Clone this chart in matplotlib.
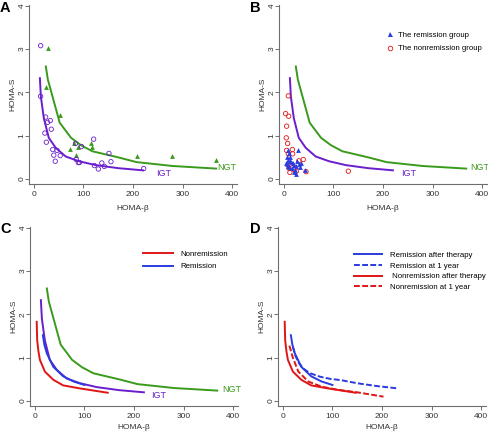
import matplotlib
matplotlib.use("Agg")
import matplotlib.pyplot as plt
from matplotlib.lines import Line2D

plt.rcParams['font.family'] = ['Liberation Sans', 'DejaVu Sans']

# ---------------- data ----------------
ngt_curve_x = [24, 28, 52, 75, 95, 118, 170, 207, 280, 368]
ngt_curve_y = [2.6, 2.3, 1.3, 0.95, 0.78, 0.64, 0.5, 0.39, 0.3, 0.24]
igt_curve_x = [12, 14, 20, 30, 44, 64, 91, 125, 170, 220]
igt_curve_y = [2.33, 1.9, 1.4, 0.95, 0.72, 0.52, 0.41, 0.32, 0.25, 0.2]

ngt_pts_x = [28, 25, 52.5, 80, 89.5, 72, 85.5, 115, 118, 208, 278, 367]
ngt_pts_y = [3.02, 2.12, 1.47, 0.83, 0.75, 0.69, 0.56, 0.82, 0.75, 0.52, 0.52, 0.45]

igt_pts_x = [13.5, 13.5, 23.6, 27.6, 33, 35, 22, 25, 38, 46.5, 40, 53, 43,
             84, 96, 120.5, 151.5, 155.5, 137, 130, 142, 122, 89.5, 92, 85.5, 221.5]
igt_pts_y = [3.08, 1.91, 1.43, 1.31, 1.35, 1.15, 1.06, 0.85, 0.68, 0.66, 0.55, 0.54, 0.41,
             0.82, 0.75, 0.92, 0.59, 0.4, 0.37, 0.23, 0.29, 0.31, 0.38, 0.38, 0.45, 0.24]

rem_pts_x = [8, 10, 28, 6, 9, 12, 5, 7, 14, 18, 20, 25, 30, 35, 11, 16, 22, 20, 24, 42, 9, 13, 32, 27]
rem_pts_y = [0.66, 0.6, 0.67, 0.5, 0.45, 0.42, 0.38, 0.35, 0.4, 0.38, 0.32, 0.3, 0.35, 0.38,
             0.28, 0.25, 0.2, 0.15, 0.12, 0.2, 0.3, 0.5, 0.28, 0.42]
nonrem_pts_x = [8.8, 3.4, 9.5, 5.4, 4.7, 7.4, 17, 5.4, 17.6, 8.8, 39, 10, 44.6, 130, 20, 25, 14, 12, 30]
nonrem_pts_y = [1.92, 1.51, 1.45, 1.22, 0.95, 0.82, 0.68, 0.66, 0.58, 0.58, 0.45, 0.25, 0.17, 0.18,
                0.22, 0.18, 0.35, 0.15, 0.42]

nonrem_x = [3.5, 4.5, 7, 10, 20, 37, 57, 91, 147]
nonrem_y = [1.83, 1.4, 1.15, 0.95, 0.68, 0.49, 0.36, 0.29, 0.19]
rem_x = [16, 19, 24, 37, 57, 78, 100]
rem_y = [1.52, 1.3, 1.1, 0.79, 0.57, 0.45, 0.37]

rem1y_x = [20, 25, 32, 42, 55, 75, 96, 118, 150, 186, 232]
rem1y_y = [1.25, 1.05, 0.88, 0.74, 0.64, 0.56, 0.51, 0.48, 0.41, 0.35, 0.29]
nonrem1y_x = [13, 15, 20, 31, 51, 78, 110, 150, 203]
nonrem1y_y = [1.28, 1.2, 1.0, 0.68, 0.45, 0.33, 0.26, 0.2, 0.1]

x_ticks = [0, 100, 200, 300, 400]
y_ticks = [0, 1, 2, 3, 4]

# ---------------- style ----------------
GREEN = '#3a9a1c'
PURPLE = '#6a1ecc'
BLUE = '#2a3be0'
RED = '#e01515'
AX = '#6e6e6e'
TXT = '#333333'
W, H = 489, 434
FS = 6
LFS = 5.6

fig = plt.figure(figsize=(W / 100, H / 100), dpi=100)


def make_ax(left, bottom_px, letter, lx, ly, xlabelpad):
    ax = fig.add_axes([left / W, (H - bottom_px) / H, 208 / W, 179 / H])
    ax.set_xlim(-10, 410)
    ax.set_ylim(-0.116, 4.02)
    for s in ['top', 'right']:
        ax.spines[s].set_visible(False)
    for s in ['left', 'bottom']:
        ax.spines[s].set_color(AX)
        ax.spines[s].set_linewidth(0.8)
    ax.set_xticks(x_ticks)
    ax.set_yticks(y_ticks)
    ax.tick_params(direction='out', length=2.6, width=0.7, color=AX,
                   labelsize=FS, labelcolor=TXT)
    ax.tick_params(axis='x', pad=2.5)
    ax.tick_params(axis='y', pad=-0.3)
    for t in ax.get_yticklabels():
        t.set_rotation(90)
        t.set_va('center')
    ax.set_xlabel('HOMA-β', fontsize=FS, color=TXT, labelpad=xlabelpad)
    ax.set_ylabel('HOMA-S', fontsize=FS, color=TXT, labelpad=2)
    fig.text(lx / W, 1 - ly / H, letter, fontsize=10.5, fontweight='bold',
             ha='left', va='top')
    return ax


def ref_curves(ax, ngt_x, igt_x):
    ax.plot(ngt_curve_x, ngt_curve_y, color=GREEN, lw=1.4)
    ax.plot(igt_curve_x, igt_curve_y, color=PURPLE, lw=1.4)
    ax.text(ngt_x, 0.27, 'NGT', color=GREEN, fontsize=FS + 0.5, va='center', ha='left')
    ax.text(igt_x, 0.12, 'IGT', color=PURPLE, fontsize=FS + 0.5, va='center', ha='left')


# Panel A
axA = make_ax(29, 184, 'A', 0, 1, 5)
ref_curves(axA, 370, 246)
axA.scatter(ngt_pts_x, ngt_pts_y, marker='^', s=12, color=GREEN, linewidths=0, zorder=3)
axA.scatter(igt_pts_x, igt_pts_y, marker='o', s=10, facecolors='none',
            edgecolors=PURPLE, linewidths=0.6, zorder=3)

# Panel B
axB = make_ax(279, 184, 'B', 250, 1, 5)
ref_curves(axB, 377, 236)
axB.scatter(nonrem_pts_x, nonrem_pts_y, marker='o', s=10, facecolors='none',
            edgecolors=RED, linewidths=0.6, zorder=3)
axB.scatter(rem_pts_x, rem_pts_y, marker='^', s=12, color=BLUE, linewidths=0, zorder=3)
hB = [Line2D([], [], marker='^', ls='none', color=BLUE, markersize=3.6, markeredgewidth=0),
      Line2D([], [], marker='o', ls='none', markerfacecolor='none', markeredgecolor=RED,
             markersize=3.3, markeredgewidth=0.6)]
axB.legend(hB, ['The remission group', 'The nonremission group'], loc='upper left',
           bbox_to_anchor=(0.5, 0.868), frameon=False, fontsize=LFS, handlelength=1.0,
           handletextpad=0.5, labelspacing=0.72, borderaxespad=0)

# Panel C
axC = make_ax(30, 406, 'C', 0, 222, 3)
ref_curves(axC, 378, 235)
axC.plot(nonrem_x, nonrem_y, color=RED, lw=1.4)
axC.plot(rem_x, rem_y, color=BLUE, lw=1.4)
hC = [Line2D([], [], color=RED, lw=1.4), Line2D([], [], color=BLUE, lw=1.4)]
axC.legend(hC, ['Nonremission', 'Remission'], loc='upper left',
           bbox_to_anchor=(0.53, 0.885), frameon=False, fontsize=LFS, handlelength=3.85,
           handletextpad=0.9, labelspacing=0.6, borderaxespad=0)

# Panel D
axD = make_ax(278, 406, 'D', 250, 222, 3)
axD.plot(rem_x, rem_y, color=BLUE, lw=1.4)
axD.plot(rem1y_x, rem1y_y, color=BLUE, lw=1.4, ls=(0, (3, 1.2)))
axD.plot(nonrem_x, nonrem_y, color=RED, lw=1.4)
axD.plot(nonrem1y_x, nonrem1y_y, color=RED, lw=1.4, ls=(0, (3, 1.2)))
hD = [Line2D([], [], color=BLUE, lw=1.4),
      Line2D([], [], color=BLUE, lw=1.4, ls=(0, (3, 1.2))),
      Line2D([], [], color=RED, lw=1.4),
      Line2D([], [], color=RED, lw=1.4, ls=(0, (3, 1.2)))]
axD.legend(hD, ['Remission after therapy', 'Remission at 1 year',
                ' Nonremission after therapy', 'Nonremission at 1 year'],
           loc='upper left', bbox_to_anchor=(0.351, 0.88), frameon=False, fontsize=LFS,
           handlelength=3.6, handletextpad=1.0, labelspacing=0.42, borderaxespad=0)

fig.savefig('out.png', dpi=100)
